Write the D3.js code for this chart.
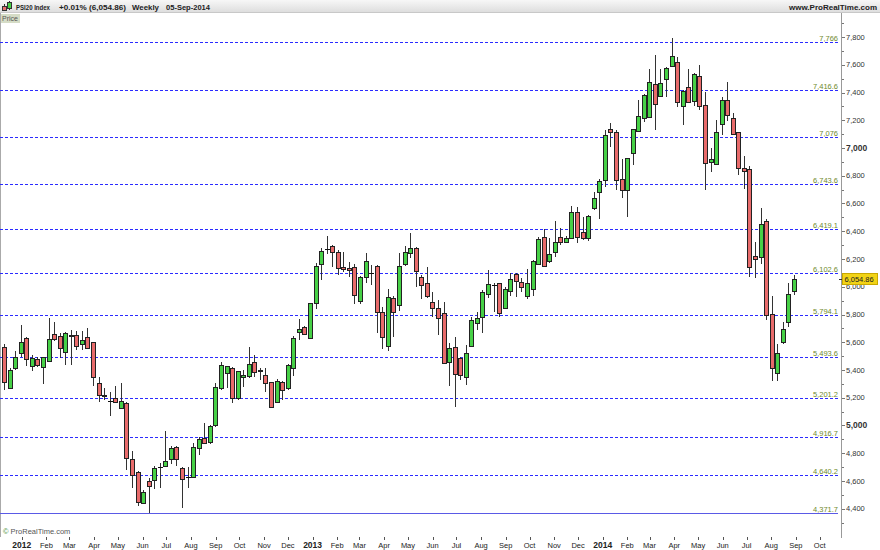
<!DOCTYPE html>
<html><head><meta charset="utf-8">
<script src="https://cdn.jsdelivr.net/npm/d3@7"></script>
<style>body{margin:0;background:#fff;} svg{display:block;font-family:"Liberation Sans",Arial,sans-serif;}</style>
</head><body><svg id="c" width="880" height="550"></svg>
<script>
// Weekly OHLC, PSI20 Index, week ending 16-Dec-2011 .. 05-Sep-2014
const opens = [5568,5268,5412,5520,5628,5431,5477,5419,5467,5659,5647,5532,5652,5650,5585,5636,5600,5304,5220,5176,5196,5124,5164,4759,4667,4439,4602,4607,4700,4710,4759,4843,4696,4630,4631,4840,4910,4883,5005,5268,5381,5417,5196,5347,5359,5460,5398,5364,5311,5172,5316,5268,5412,5676,5708,5633,5881,6165,6270,6292,6253,6140,6133,6140,5899,6072,6097,6152,5816,5575,5921,5868,6162,6245,6281,6072,6025,5892,5845,5809,5460,5564,5484,5347,5575,5737,5784,5946,6013,6025,5849,5972,6092,6032,5935,5982,6164,6361,6188,6253,6359,6325,6352,6541,6392,6349,6565,6681,6769,7137,7113,6774,6697,6966,7123,7218,7226,7459,7377,7495,7593,7622,7303,7442,7341,7521,7308,6897,6885,7173,7346,7218,7113,6858,6846,6224,6217,6474,5804,5381,5604,5748,5972];
const highs = [5585,5412,5539,5724,5635,5508,5496,5496,5773,5748,5664,5676,5688,5683,5683,5701,5604,5352,5268,5244,5287,5304,5172,4816,4670,4535,4619,4708,4728,4963,4852,4852,4700,4703,4872,4915,5016,5004,5308,5460,5432,5420,5395,5400,5568,5508,5412,5412,5316,5333,5323,5443,5645,5765,5717,5885,6169,6277,6366,6301,6265,6248,6181,6162,6075,6241,6157,6157,5856,5982,5935,6241,6294,6385,6289,6085,6144,5964,5904,5892,5592,5636,5496,5580,5784,5820,5977,6121,6025,6029,5996,6101,6101,6061,6128,6193,6361,6414,6349,6474,6423,6366,6584,6577,6505,6517,6681,6777,7130,7178,7130,6921,6930,7138,7346,7387,7567,7670,7567,7586,7791,7656,7418,7567,7538,7598,7406,6998,7202,7365,7473,7250,7117,6942,6870,6320,6565,6486,5933,5587,5748,6025,6085];
const lows = [5256,5261,5400,5496,5429,5395,5424,5299,5460,5611,5484,5436,5436,5544,5544,5549,5285,5172,5184,5068,5164,5118,4679,4547,4422,4434,4367,4540,4547,4703,4723,4708,4403,4547,4620,4787,4870,4867,4991,5256,5268,5160,5184,5280,5340,5347,5328,5244,5124,5160,5184,5256,5357,5616,5652,5628,5837,6049,6236,6144,6085,6108,6072,5874,5874,6025,6013,5664,5551,5537,5636,5825,6150,6205,6000,5912,5917,5784,5652,5440,5285,5135,5328,5292,5568,5688,5664,5917,5820,5784,5845,5933,5924,5960,5912,5933,6157,6140,6169,6217,6304,6313,6344,6313,6337,6330,6553,6486,6721,7009,6697,6642,6501,6877,7113,7190,7214,7130,7370,7370,7586,7296,7166,7322,7303,7274,6697,6825,6877,7094,7197,7094,6805,6702,6072,6061,6164,5760,5323,5323,5587,5708,5941];
const closes = [5316,5400,5492,5600,5477,5484,5436,5492,5621,5621,5556,5667,5645,5575,5616,5559,5352,5220,5215,5176,5167,5177,4764,4643,4451,4523,4564,4696,4700,4742,4840,4756,4612,4630,4843,4905,4876,4996,5275,5436,5429,5200,5393,5364,5443,5388,5390,5304,5135,5323,5256,5436,5628,5695,5657,5881,6150,6255,6270,6253,6133,6128,6119,5941,6072,6188,6097,5820,5636,5924,5820,6152,6253,6277,6114,6013,5935,5849,5773,5448,5556,5371,5364,5520,5760,5777,5964,6018,6013,5809,5982,6056,6044,6000,6025,6186,6344,6150,6236,6320,6323,6349,6537,6356,6349,6512,6642,6764,7094,7113,6769,6697,6926,7135,7231,7382,7473,7315,7466,7574,7665,7332,7413,7334,7531,7305,6894,6919,7113,7346,7238,7101,6854,6834,6144,6200,6450,5796,5412,5520,5693,5948,6054.86];
const firstWeek = "2011-12-16";

const levelValues = [7766, 7416.6, 7076, 6743.6, 6419.1, 6102.6, 5794.1, 5493.6, 5201.2, 4916.7, 4640.2, 4371.7];
const levelLabels = ["7,766", "7,416.6", "7,076", "6,743.6", "6,419.1", "6,102.6", "5,794.1", "5,493.6", "5,201.2", "4,916.7", "4,640.2", "4,371.7"];

const monthLabels = ["2012","Feb","Mar","Apr","May","Jun","Jul","Aug","Sep","Oct","Nov","Dec",
  "2013","Feb","Mar","Apr","May","Jun","Jul","Aug","Sep","Oct","Nov","Dec",
  "2014","Feb","Mar","Apr","May","Jun","Jul","Aug","Sep","Oct"];
const monthDates = ["2012-01-01","2012-02-01","2012-03-01","2012-04-01","2012-05-01","2012-06-01","2012-07-01","2012-08-01","2012-09-01","2012-10-01","2012-11-01","2012-12-01",
  "2013-01-01","2013-02-01","2013-03-01","2013-04-01","2013-05-01","2013-06-01","2013-07-01","2013-08-01","2013-09-01","2013-10-01","2013-11-01","2013-12-01",
  "2014-01-01","2014-02-01","2014-03-01","2014-04-01","2014-05-01","2014-06-01","2014-07-01","2014-08-01","2014-09-01","2014-10-01"];

const yTickValues = d3.range(4300, 7901, 100);
const yLabelValues = d3.range(4400, 7801, 200);
const boldYLabels = [5000, 7000];
const lastPrice = 6054.86;
const headerItems = ["PSI20 Index", "+0.01% (6,054.86)", "Weekly", "05-Sep-2014"];

const svg = d3.select("#c");
const W = 880, H = 550;
const x = d3.scaleLinear().domain([0, opens.length - 1]).range([4, 794]);
const y = d3.scaleLinear().domain([4400, 7800]).range([508.75, 37]);
const fmt = d3.format(",");
const crisp = v => Math.round(v) + 0.5;

// header
const defs = svg.append("defs");
const grad = defs.append("linearGradient").attr("id", "hg").attr("x1", 0).attr("x2", 0).attr("y1", 0).attr("y2", 1);
grad.append("stop").attr("offset", "0%").attr("stop-color", "#f7f7f7");
grad.append("stop").attr("offset", "100%").attr("stop-color", "#dedede");
svg.append("rect").attr("x", 0).attr("y", 0).attr("width", W).attr("height", 12).attr("fill", "url(#hg)");
svg.append("line").attr("x1", 0).attr("x2", W).attr("y1", 12.5).attr("y2", 12.5).attr("stroke", "#c8c8c8");
// icon
svg.append("line").attr("x1", 4.5).attr("x2", 4.5).attr("y1", 4).attr("y2", 11).attr("stroke", "#333");
svg.append("rect").attr("x", 2.5).attr("y", 6.5).attr("width", 4).attr("height", 4).attr("fill", "#e86b6b").attr("stroke", "#333");
svg.append("line").attr("x1", 9.5).attr("x2", 9.5).attr("y1", 1).attr("y2", 10).attr("stroke", "#333");
svg.append("rect").attr("x", 7.5).attr("y", 2.5).attr("width", 4).attr("height", 6).attr("fill", "#46d046").attr("stroke", "#333");
const hx = [16, 59, 132, 166];
const hw = [34, 67, 27, 44];
svg.selectAll("text.hdr").data(headerItems).join("text").attr("class", "hdr")
  .attr("x", (d, i) => hx[i]).attr("y", 9.5).attr("font-size", "8px").attr("font-weight", "bold").attr("fill", "#222")
  .attr("textLength", (d, i) => hw[i]).attr("lengthAdjust", "spacingAndGlyphs").text(d => d);
svg.append("text").attr("x", 877).attr("y", 9.5).attr("text-anchor", "end").attr("font-size", "8px").attr("font-weight", "bold").attr("fill", "#222").text("www.ProRealTime.com");

// Price tag
svg.append("rect").attr("x", 0).attr("y", 14).attr("width", 20).attr("height", 9).attr("fill", "#d5dcc6");
svg.append("text").attr("x", 2).attr("y", 21).attr("font-size", "7px").attr("fill", "#555").text("Price");

// frame lines
svg.append("line").attr("x1", 0.5).attr("x2", 0.5).attr("y1", 13).attr("y2", 537).attr("stroke", "#aaa");
svg.append("line").attr("x1", 841.5).attr("x2", 841.5).attr("y1", 13).attr("y2", 538).attr("stroke", "#999");

// levels
const lv = svg.append("g");
levelValues.forEach((v, i) => {
  const yy = crisp(y(v));
  const last = i === levelValues.length - 1;
  lv.append("line").attr("x1", 0).attr("x2", 838).attr("y1", yy).attr("y2", yy)
    .attr("stroke", last ? "#5a5ae6" : "#2b2bff").attr("stroke-width", 1)
    .attr("stroke-dasharray", last ? null : "3,2");
  lv.append("text").attr("x", 838).attr("y", yy - 1.5).attr("text-anchor", "end")
    .attr("font-size", "7.5px").attr("fill", "#6f8a2c").text(levelLabels[i]);
});

// candles
const cg = svg.append("g");
opens.forEach((o, i) => {
  const c = closes[i], h = highs[i], l = lows[i];
  const cx = crisp(x(i));
  cg.append("line").attr("x1", cx).attr("x2", cx).attr("y1", Math.round(y(h))).attr("y2", Math.round(y(l)))
    .attr("stroke", "#333").attr("stroke-width", 1);
  const top = crisp(y(Math.max(o, c))), bot = crisp(y(Math.min(o, c)));
  if (o === c) {
    cg.append("line").attr("x1", cx - 2.5).attr("x2", cx + 2.5).attr("y1", top).attr("y2", top).attr("stroke", "#111");
  } else {
    cg.append("rect").attr("x", cx - 2).attr("y", top).attr("width", 4).attr("height", Math.max(bot - top, 1))
      .attr("fill", c > o ? "#46d046" : "#e86b6b").attr("stroke", "#222").attr("stroke-width", 1);
  }
});

// y axis
const ya = svg.append("g");
yTickValues.forEach(v => {
  const yy = crisp(y(v));
  ya.append("line").attr("x1", 842).attr("x2", v % 200 === 0 ? 845 : 844).attr("y1", yy).attr("y2", yy).attr("stroke", "#777");
});
yLabelValues.forEach(v => {
  const b = boldYLabels.includes(v);
  ya.append("text").attr("x", 846).attr("y", y(v)).attr("dy", "0.35em")
    .attr("font-size", b ? "8.5px" : "7.5px").attr("font-weight", b ? "bold" : "normal")
    .attr("fill", "#333").text(fmt(v));
});
// last price box
const py = y(lastPrice);
svg.append("line").attr("x1", 839).attr("x2", 843).attr("y1", crisp(py)).attr("y2", crisp(py)).attr("stroke", "#333");
svg.append("rect").attr("x", 842.5).attr("y", Math.round(py) - 5.5).attr("width", 35).attr("height", 11)
  .attr("fill", "#f2d316").attr("stroke", "#c9a800");
svg.append("text").attr("x", 844.5).attr("y", py).attr("dy", "0.35em").attr("font-size", "7.5px").attr("fill", "#222").text(d3.format(",.2f")(lastPrice));

// x axis months
const parse = d3.timeParse("%Y-%m-%d");
const t0 = parse(firstWeek);
const wk = 7 * 864e5;
const xa = svg.append("g");
monthLabels.forEach((m, i) => {
  const fi = (parse(monthDates[i]) - t0) / wk;
  const xx = x(fi) + 5;
  const isYear = /^\d{4}$/.test(m);
  xa.append("line").attr("x1", crisp(xx)).attr("x2", crisp(xx)).attr("y1", 537).attr("y2", 540).attr("stroke", "#555");
  xa.append("text").attr("x", xx).attr("y", 548).attr("text-anchor", "middle")
    .attr("font-size", isYear ? "8.5px" : "7.5px").attr("font-weight", isYear ? "bold" : "normal")
    .attr("fill", "#222").text(m);
});

// copyright
const cp = svg.append("text").attr("x", 3).attr("y", 534).attr("font-size", "7.5px").attr("fill", "#555");
cp.append("tspan").attr("fill", "#3d8a2d").text("©");
cp.append("tspan").text(" ProRealTime.com");
</script></body></html>
